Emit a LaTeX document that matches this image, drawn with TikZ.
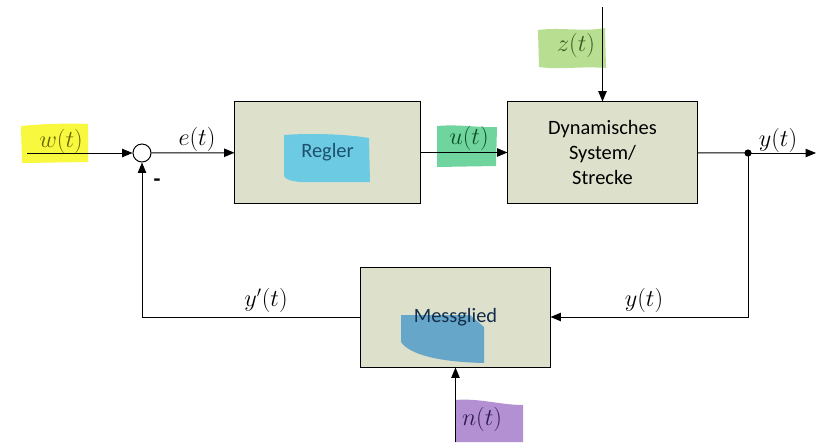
\documentclass[tikz,border=0pt]{standalone}
\usepackage{fontspec}
\newfontfamily\calibri{Carlito}
\usetikzlibrary{arrows.meta,positioning,backgrounds}
\definecolor{boxfill}{HTML}{DDE0CB}
\definecolor{hlyellow}{RGB}{248,248,62}
\definecolor{hlgreen}{RGB}{184,222,146}
\definecolor{hlmint}{RGB}{112,212,158}
\definecolor{hlpurple}{RGB}{178,144,210}
\definecolor{hlcyan}{RGB}{108,202,226}
\definecolor{hlblue}{RGB}{102,166,201}

\tikzset{
  block/.style={draw, line width=0.7pt, minimum width=4.725cm,
    minimum height=2.525cm, align=center,
    font=\calibri\fontsize{14.5}{17.7}\selectfont},
  signal/.style={font=\fontsize{16}{18}\selectfont, inner sep=1pt},
  marker/.style={blend mode=multiply},
  >={Triangle[length=2.6mm,width=2.1mm]}
}

\begin{document}
\begin{tikzpicture}[x=0.025cm,y=-0.025cm,line width=0.7pt]
  \useasboundingbox (0,0) rectangle (817,442);

  \node[block, minimum width=4.625cm, text={rgb,255:red,30;green,80;blue,110}] (regler) at (327.5,152.5) {Regler};
  \node[block] (strecke) at (602.5,152.5) {Dynamisches\\System/\\Strecke};
  \node[block, minimum height=2.5cm, text={rgb,255:red,20;green,45;blue,75}] (messglied) at (455.5,317) {Messglied};
  \node[circle, draw, fill=white, minimum size=0.45cm, inner sep=0pt] (sum) at (142,153) {};

  \begin{scope}[on background layer]
    \foreach \b in {regler,strecke,messglied}
      \fill[boxfill] (\b.south west) rectangle (\b.north east);
    \fill[hlcyan] (284,135) .. controls (310,133) and (345,134) .. (369,138) -- (370,182)
      -- (300,182) .. controls (290,181) and (285,179) .. (284,176) -- cycle;
    \fill[hlblue] (401,315) -- (470,315) -- (484,327) -- (484,363)
      .. controls (440,362) and (410,355) .. (401,342) -- cycle;
  \end{scope}

  \coordinate (w in) at (27,153);
  \coordinate (z in) at (602.5,7);
  \coordinate (n in) at (455.5,442);
  \coordinate (y out) at (816,153);
  \coordinate (branch) at (748,153);

  \draw[->] (w in) -- (sum);
  \draw[->] (sum) -- (regler);
  \draw[->] (regler) -- (strecke);
  \draw[->] (z in) -- (strecke);
  \draw (strecke) -- (branch);
  \draw[->] (branch) -- (y out);
  \fill (branch) circle (0.09cm);
  \draw[->] (branch) |- (messglied);
  \draw[->] (messglied) -| (sum);
  \draw[->] (n in) -- (messglied);

  \node[signal, text={rgb,255:red,105;green,105;blue,30}] (w label) at (61,141) {$w(t)$};
  \node[signal] (e label) at (197,139) {$e(t)$};
  \node[signal, text={rgb,255:red,25;green,95;blue,60}] (u label) at (469,138) {$u(t)$};
  \node[signal, text={rgb,255:red,75;green,105;blue,55}] (z label) at (576,45) {$z(t)$};
  \node[signal] (y label) at (778,140) {$y(t)$};
  \node[signal] (yfb label) at (644,300) {$y(t)$};
  \node[signal] (ys label) at (266,300) {$y'(t)$};
  \node[signal, text={rgb,255:red,70;green,45;blue,100}] (n label) at (482,419) {$n(t)$};
  \node[font=\calibri\bfseries\fontsize{16}{16}\selectfont, inner sep=0pt] (minus) at (157,183) {-};

  \fill[hlyellow, marker] (21,126) .. controls (40,124) and (70,123) .. (88,124) -- (88,162) -- (22,163) -- cycle;
  \fill[hlgreen, marker] (538,30) .. controls (560,27) and (585,32) .. (605,28) -- (606,68) .. controls (580,66) and (560,70) .. (539,67) -- cycle;
  \fill[hlmint, marker] (437,126) .. controls (460,124) and (480,128) .. (497,127) -- (496,166) -- (437,167) -- cycle;
  \fill[hlpurple, marker] (455,400) .. controls (480,398) and (500,405) .. (523,405) -- (523,442) -- (455,442) -- cycle;
\end{tikzpicture}
\end{document}
